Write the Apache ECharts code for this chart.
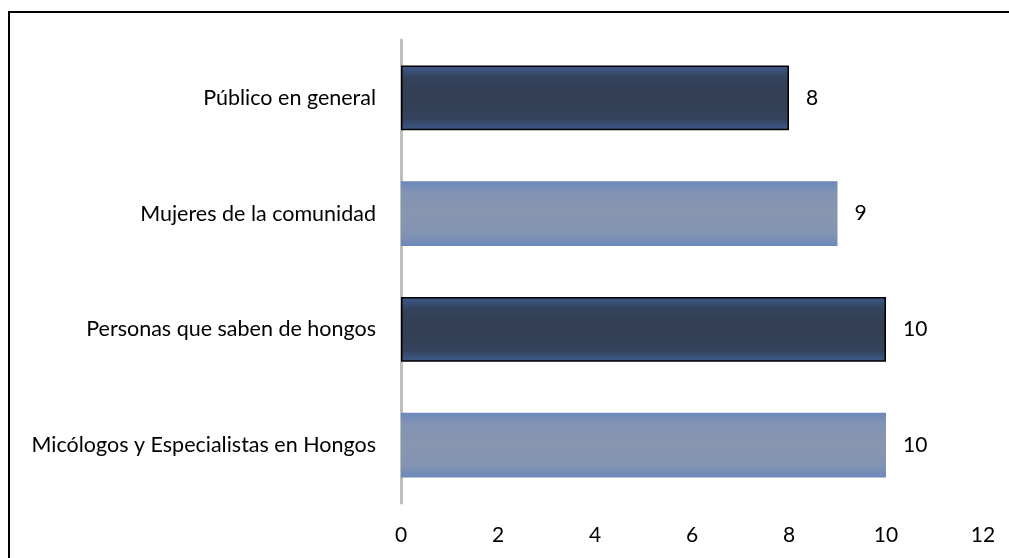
<!DOCTYPE html>
<html>
<head>
<meta charset="utf-8">
<script src="https://cdn.jsdelivr.net/npm/echarts@6/dist/echarts.min.js"></script>
<style>
  html, body { margin: 0; padding: 0; background: #fff; }
  #chart { width: 1009px; height: 558px; }
</style>
</head>
<body>
<div id="chart"></div>
<script>
// Categories listed top to bottom
const categories = [
  'Público en general',
  'Mujeres de la comunidad',
  'Personas que saben de hongos',
  'Micólogos y Especialistas en Hongos'
];
const values = [8, 9, 10, 10];
// Shade per bar: 'dark' or 'light'
const shades = ['dark', 'light', 'dark', 'light'];
const xTicks = [0, 2, 4, 6, 8, 10, 12];

const FONT = 'Lato, "Noto Sans", sans-serif';

function barFill(shade) {
  if (shade === 'dark') {
    return new echarts.graphic.LinearGradient(0, 0, 0, 1, [
      { offset: 0, color: '#3d5a8e' },
      { offset: 0.18, color: '#34435c' },
      { offset: 0.5, color: '#323e52' },
      { offset: 0.82, color: '#34435c' },
      { offset: 1, color: '#3d5a8e' }
    ]);
  }
  return new echarts.graphic.LinearGradient(0, 0, 0, 1, [
    { offset: 0, color: '#6c87bb' },
    { offset: 0.18, color: '#8294b3' },
    { offset: 0.5, color: '#8896b0' },
    { offset: 0.82, color: '#8294b3' },
    { offset: 1, color: '#6c87bb' }
  ]);
}

const chart = echarts.init(document.getElementById('chart'), null, { renderer: 'canvas' });

chart.setOption({
  animation: false,
  backgroundColor: '#ffffff',
  textStyle: { fontFamily: FONT },
  graphic: [{
    type: 'rect',
    shape: { x: 9, y: 12, width: 1020, height: 560 },
    style: { fill: 'none', stroke: '#000', lineWidth: 2 },
    silent: true,
    z: 100
  }],
  grid: { left: 401, right: 26, top: 40, bottom: 55, containLabel: false },
  xAxis: {
    type: 'value',
    min: xTicks[0],
    max: xTicks[xTicks.length - 1],
    interval: 2,
    axisLine: { show: false },
    axisTick: { show: false },
    splitLine: { show: false },
    axisLabel: { color: '#000', fontSize: 21, fontFamily: FONT, margin: 22 }
  },
  yAxis: {
    type: 'category',
    inverse: true,
    data: categories,
    axisLine: { show: true, lineStyle: { color: '#bfbfbf', width: 3 } },
    axisTick: { show: false },
    axisLabel: { color: '#000', fontSize: 21.5, fontFamily: FONT, margin: 25 }
  },
  series: [{
    type: 'bar',
    barCategoryGap: '44%',
    data: values.map((v, i) => ({
      value: v,
      itemStyle: {
        color: barFill(shades[i]),
        borderColor: shades[i] === 'dark' ? '#000' : 'transparent',
        borderWidth: shades[i] === 'dark' ? 1.5 : 0
      }
    })),
    label: {
      show: true,
      position: 'right',
      distance: 17,
      color: '#000',
      fontSize: 21,
      fontFamily: FONT
    }
  }]
});
</script>
</body>
</html>
